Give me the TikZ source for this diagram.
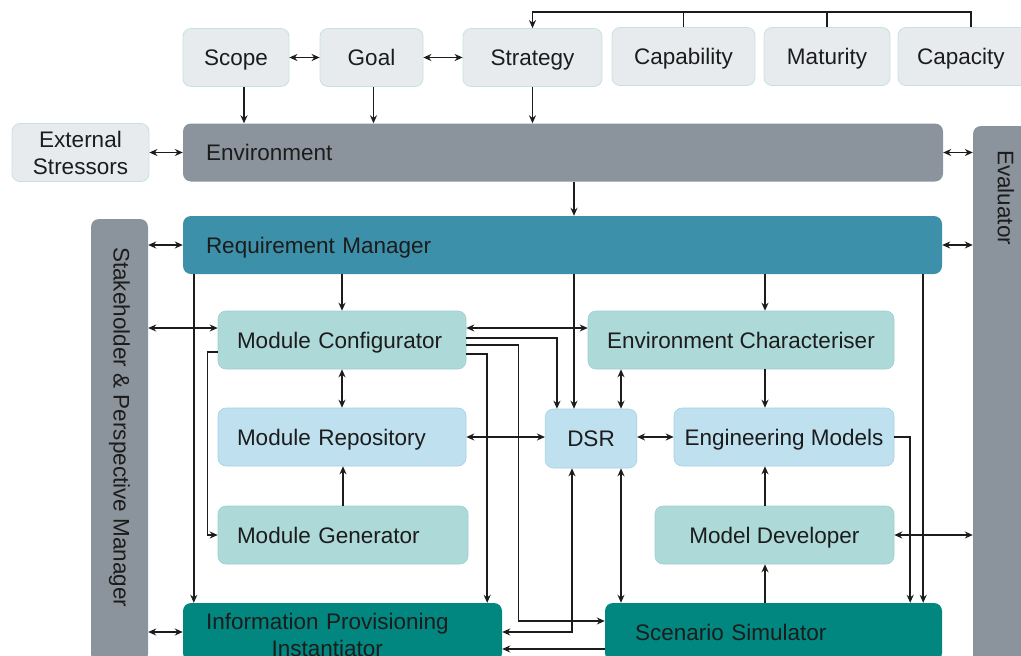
\documentclass[tikz,border=0pt]{standalone}
\usepackage{fontspec}
\setmainfont{Liberation Sans}
\usetikzlibrary{positioning,arrows.meta,calc}
\definecolor{ink}{HTML}{1C1C1C}
\definecolor{paper}{HTML}{E8EBEE}
\definecolor{paperline}{HTML}{C6E2E0}
\definecolor{slate}{HTML}{8B949C}
\definecolor{reqblue}{HTML}{3C90A9}
\definecolor{mint}{HTML}{AED9D9}
\definecolor{mintline}{HTML}{9CCFCF}
\definecolor{sky}{HTML}{BEE0EF}
\definecolor{skyline}{HTML}{A6D2E2}
\definecolor{deepteal}{HTML}{01877F}
\newcommand{\lbl}{\fontsize{22.5}{27}\selectfont}
\tikzset{
  box/.style     = {rounded corners=8pt, minimum height=58pt, inner sep=0pt,
                    font=\lbl, text=ink, align=center, text height=16pt, text depth=0pt},
  twoline/.style = {text height={}, text depth={}},
  goalbox/.style = {box, draw=paperline, fill=paper, line width=0.8pt},
  bar/.style     = {box, fill=slate},
  reqbox/.style  = {box, fill=reqblue},
  modbox/.style  = {box, draw=mintline, fill=mint, line width=0.6pt},
  repbox/.style  = {box, draw=skyline, fill=sky, line width=0.6pt},
  simbox/.style  = {box, fill=deepteal},
  vtext/.style   = {font=\lbl, text=ink, rotate=-90, anchor=west, inner sep=0pt},
  wire/.style    = {draw=ink, line width=1.5pt},
  arr/.style     = {wire, -{Stealth[length=8pt,width=7pt]}},
  dbl/.style     = {wire, {Stealth[length=8pt,width=7pt]}-{Stealth[length=8pt,width=7pt]}},
}

\begin{document}
\begin{tikzpicture}[x=1pt,y=-1pt]
  \useasboundingbox (0,0) rectangle (1021,656);
  \clip (0,0) rectangle (1021,656);

  % goals row
  \node[goalbox, minimum width=106pt] (scope) at (236,57.5) {Scope};
  \node[goalbox, minimum width=103pt] (goal) at (371.5,57.5) {Goal};
  \node[goalbox, minimum width=139pt] (strategy) at (532.5,57.5) {Strategy};
  \node[goalbox, minimum width=143pt] (capability) at (683.5,56.5) {Capability};
  \node[goalbox, minimum width=126pt] (maturity) at (827,56.5) {Maturity};
  \node[goalbox, text width=108pt, inner xsep=19pt, align=left] (capacity) at (971,56.5) {Capacity};

  \node[goalbox, twoline, minimum width=137pt] (stressors) at (80.5,152.5) {External\\Stressors};
  \node[bar, text width=714pt, inner xsep=23pt, align=left] (environment) at (563,152.5) {Environment};
  \node[reqbox, text width=713pt, inner xsep=23pt, align=left] (reqman) at (562.5,245) {Requirement Manager};

  % side bars
  \node[bar, minimum width=66pt, minimum height=560pt] (evaluator) at (1006,406) {};
  \node[vtext] (evaltext) at (1006,150) {Evaluator};
  \node[bar, minimum width=57pt, minimum height=443pt] (stakeholder) at (119.5,440.5) {};
  \node[vtext] (staketext) at (119.5,247) {Stakeholder \& Perspective Manager};

  % modules
  \node[modbox, text width=210pt, inner xsep=19pt, align=left] (modconf) at (342,340) {Module Configurator};
  \node[repbox, text width=210pt, inner xsep=19pt, align=left] (modrep) at (342,437) {Module Repository};
  \node[modbox, text width=212pt, inner xsep=19pt, align=left] (modgen) at (343,535) {Module Generator};
  \node[modbox, minimum width=306pt] (ecchar) at (741,340) {Environment Characteriser};
  \node[repbox, minimum width=91.5pt, minimum height=59pt] (dsr) at (591,438.5) {DSR};
  \node[repbox, minimum width=220pt] (engmod) at (784,437) {Engineering Models};
  \node[modbox, minimum width=239pt] (modeldev) at (774.5,535) {Model Developer};
  \node[simbox, twoline, text width=273pt, inner xsep=23pt, align=left] (infoprov) at (342.5,632)
    {\raisebox{-6pt}[\height][\depth]{\begin{tabular}{@{}c@{}}Information Provisioning\\Instantiator\end{tabular}}};
  \node[simbox, text width=277pt, inner xsep=30pt, align=left] (scensim) at (773.5,632) {Scenario Simulator};

  % top bus into strategy
  \coordinate (bus) at (0,12);
  \draw[arr] (capacity.north) -- (capacity.north |- bus) -- (strategy.north |- bus) -- (strategy.north);
  \foreach \n in {capability,maturity}
    \draw[wire] (\n.north) -- (\n.north |- bus);
  \draw[dbl] (scope) -- (goal);
  \draw[dbl] (goal) -- (strategy);
  \foreach \n/\dx in {scope/8,goal/2,strategy/0}
    \draw[arr] ([xshift=\dx pt]\n.south) -- ([xshift=\dx pt]\n.south |- environment.north);

  \draw[dbl] (stressors) -- (environment);
  \draw[dbl] (environment.east) -- (environment.east -| evaluator.west);
  \draw[arr] ([xshift=11pt]environment.south) -- ([xshift=11pt]environment.south |- reqman.north);
  \draw[dbl] (reqman.east) -- (reqman.east -| evaluator.west);
  \draw[dbl] (reqman.west) -- (reqman.west -| stakeholder.east);

  % right-hand column
  \coordinate (spine) at (765,0);
  \draw[arr] (reqman.south -| spine) -- (ecchar.north -| spine);
  \draw[arr] (ecchar.south -| spine) -- (engmod.north -| spine);
  \draw[arr] (modeldev.north -| spine) -- (engmod.south -| spine);
  \draw[arr] (scensim.north -| spine) -- (modeldev.south -| spine);

  % module configurator links
  \draw[arr] (reqman.south -| modconf.north) -- (modconf.north);
  \draw[dbl] (modconf) -- (modrep);
  \draw[arr] (modgen.north) -- (modgen.north |- modrep.south);
  \draw[dbl] ([yshift=12pt]modconf.west) -- ([yshift=12pt]modconf.west -| stakeholder.east);
  \draw[dbl] ([yshift=12pt]modconf.east) -- ([yshift=12pt]modconf.east -| ecchar.west);
  \draw[arr] ([yshift=2pt]modconf.east) -| ([xshift=12pt]dsr.north west);
  \draw[arr] ([yshift=-5pt]modconf.east) -- ++(52,0) |- ([yshift=11pt]scensim.west);
  \draw[arr] ([yshift=-14pt]modconf.east) -| ([xshift=-15pt]infoprov.north east);
  \draw[arr] ([yshift=-12pt]modconf.west) -- ++(-10,0) |- (modgen.west);
  \draw[arr] ([xshift=11pt]reqman.south west) -- ([xshift=11pt]infoprov.north west);

  % DSR links
  \draw[arr] ([xshift=-17pt]dsr.north |- reqman.south) -- ([xshift=-17pt]dsr.north);
  \draw[dbl] ([xshift=30pt]dsr.north) -- ([xshift=30pt]dsr.north |- ecchar.south);
  \draw[dbl] (modrep.east) -- (modrep.east -| dsr.west);
  \draw[dbl] (dsr.east |- engmod.west) -- (engmod.west);
  \draw[dbl] ([xshift=30pt]dsr.south) -- ([xshift=30pt]dsr.south |- scensim.north);
  \draw[dbl] ([xshift=-19pt]dsr.south) |- (infoprov.east);

  % simulator and evaluator
  \draw[arr] (engmod.east) -| ([xshift=-32pt]scensim.north east);
  \draw[arr] ([xshift=-19pt]reqman.south east) -- ([xshift=-19pt]scensim.north east);
  \draw[dbl] (modeldev.east) -- (modeldev.east -| evaluator.west);
  \draw[arr] ([yshift=-17pt]scensim.west) -- ([yshift=-17pt]scensim.west -| infoprov.east);
  \draw[dbl] (infoprov.west) -- (infoprov.west -| stakeholder.east);
\end{tikzpicture}
\end{document}
